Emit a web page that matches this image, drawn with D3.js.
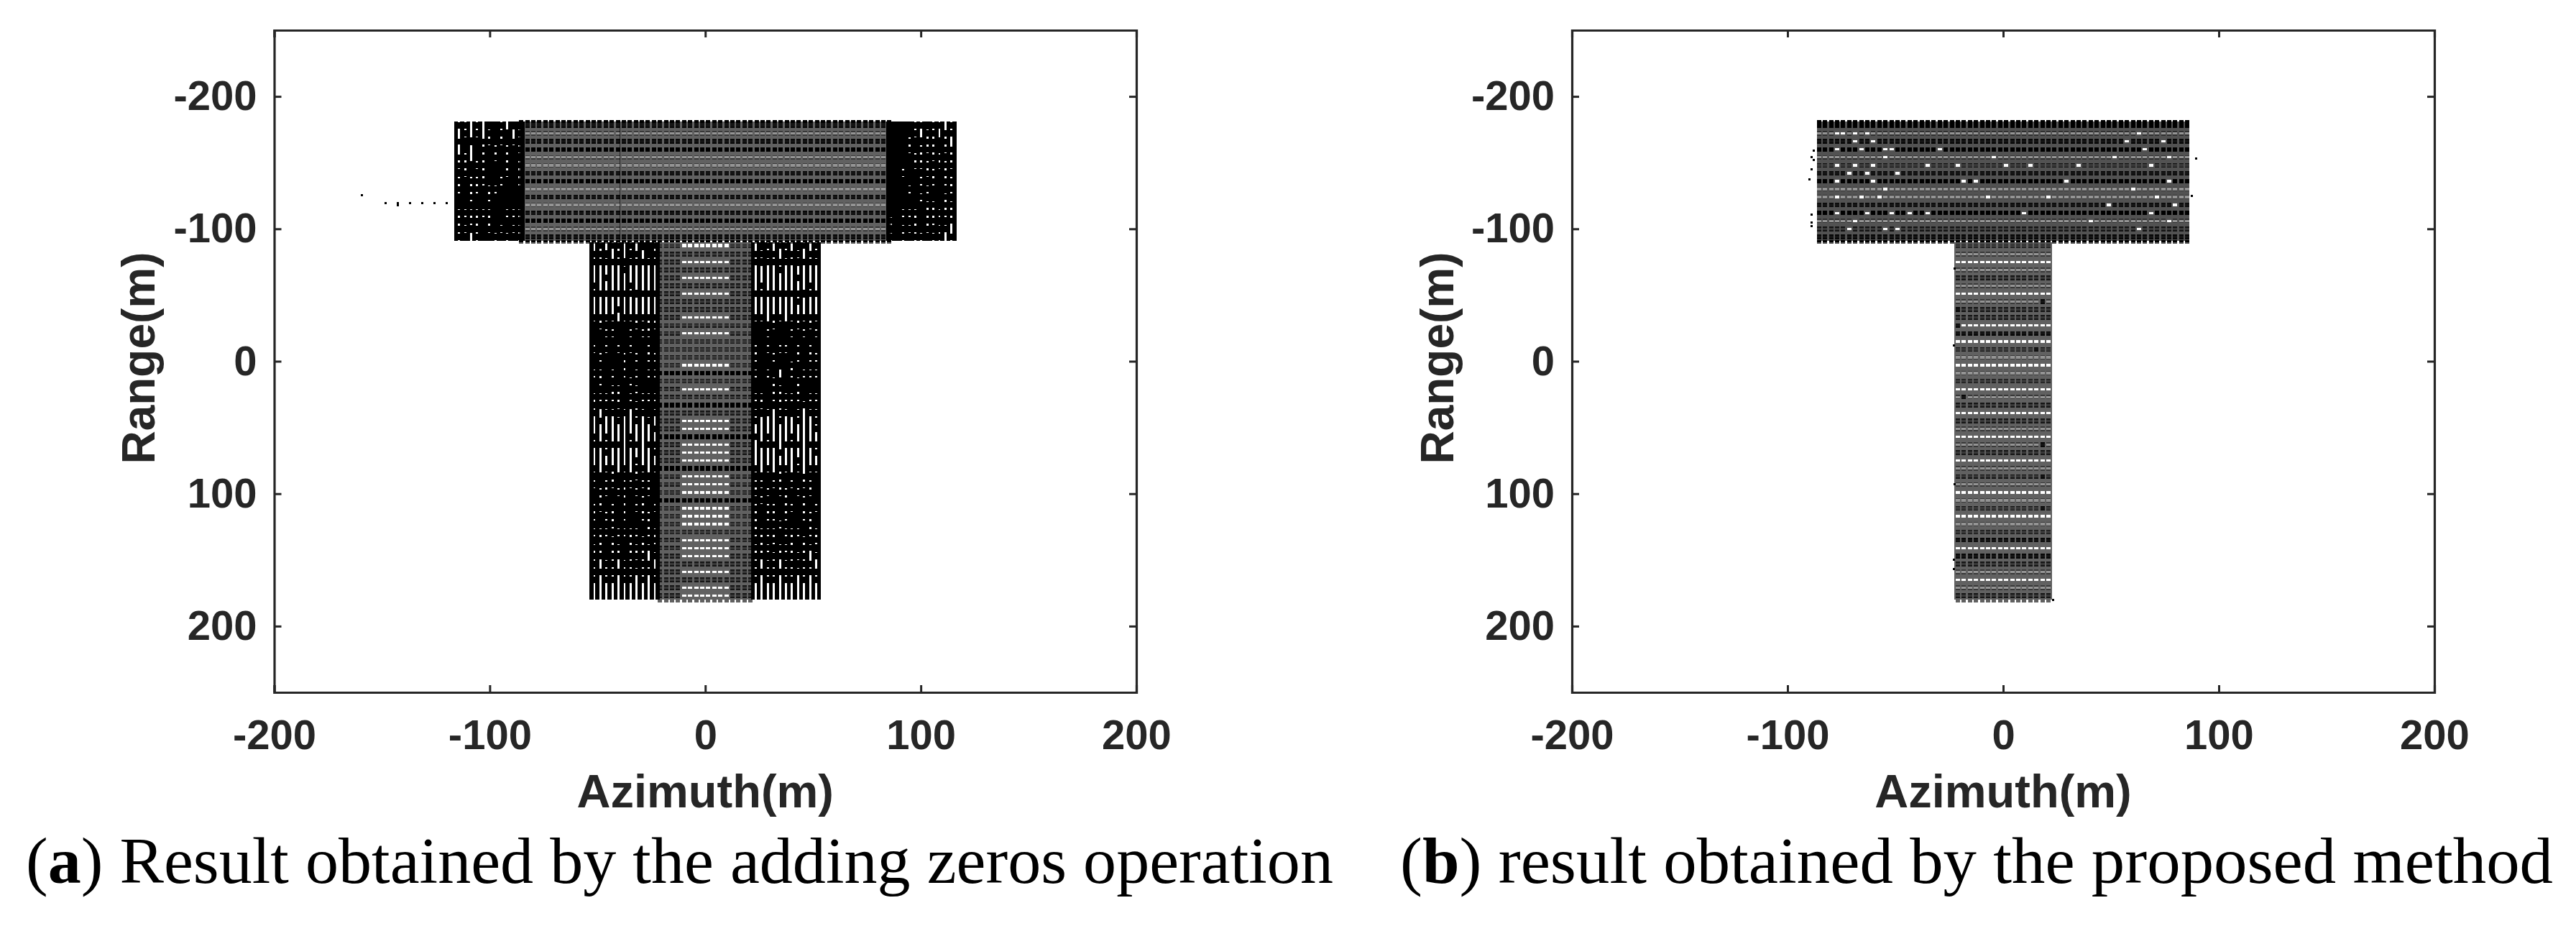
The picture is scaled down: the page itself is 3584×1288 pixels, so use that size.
<!DOCTYPE html>
<html>
<head>
<meta charset="utf-8">
<script src="https://cdn.jsdelivr.net/npm/d3@7"></script>
<style>
  body { margin: 0; background: #fff; }
  .tick text, .axis-title { font-family: "Liberation Sans", Arial, sans-serif; font-weight: bold; fill: #262626; }
  .caption { font-family: "Liberation Serif", serif; fill: #000; }
</style>
</head>
<body>
<svg id="chart" width="3584" height="1288"></svg>
<script>
const tickValues = [-200, -100, 0, 100, 200];
const tickLabels = ["-200", "-100", "0", "100", "200"];

// range rows of the scatterers, metres
const topRows = [-178, -172, -166, -160, -154, -148, -142, -136, -130, -124, -118, -112, -106, -100, -94];
const stemRows = [-87, -81, -75, -69, -63, -57, -51, -45, -39, -33, -27, -21, -15, -9, -3, 3, 9, 15, 21, 27, 33, 39, 45,
  51, 57, 63, 69, 75, 81, 87, 93, 99, 105, 111, 117, 123, 129, 135, 141, 147, 153, 159, 165, 171, 177];
const topEdgeRows = [-181, -90.5];

// azimuth columns, mirrored left and right when drawn
const topCells = [1.4, 4.2, 7, 9.8, 12.6, 15.4, 18.2, 21, 23.8, 26.6, 29.4, 32.2, 35, 37.8, 40.6, 43.4, 46.2, 49, 51.8,
  54.6, 57.4, 60.2, 63, 65.8, 68.6, 71.4, 74.2, 77, 79.8, 82.6, 85.4];
const topSeps = [0, 2.8, 5.6, 8.4, 11.2, 14, 16.8, 19.6, 22.4, 25.2, 28, 30.8, 33.6, 36.4, 39.2, 42, 44.8, 47.6, 50.4,
  53.2, 56, 58.8, 61.6, 64.4, 67.2, 70, 72.8, 75.6, 78.4, 81.2, 84];
const stemCells = [1.4, 4.2, 7, 9.8, 12.6, 15.4, 18.2, 21];
const stemSeps = [0, 2.8, 5.6, 8.4, 11.2, 14, 16.8, 19.6, 22.4];
const topSideDots = [84.84, 87.64, 90.44, 93.24, 96.04, 98.84, 101.64, 104.44, 107.24, 110.04, 112.84, 115.64];
const topSideGaps = [114.24, 111.44, 108.64, 105.84, 103.04, 100.24, 97.44, 94.64, 91.84, 89.04, 86.24];
const stemSideDots = [22.04, 24.84, 27.64, 30.44, 33.24, 36.04, 38.84, 41.64, 44.44, 47.24, 50.04, 52.84];
const stemSideGaps = [51.44, 48.64, 45.84, 43.04, 40.24, 37.44, 34.64, 31.84, 29.04, 26.24, 23.44];

// per row brightness of the centre cells: W empty, L light, G grey, D dark, B black
const topStatesA = "DLDBLLDBLDLDBLD";
const stemStatesA = "WGWGWGWGGWGWGGGWBGWGBGWWBWWWBWWWBWWWGWWWGWGWW";
const topStatesB = "BLDBLGDBLLDBLGD";
const stemStatesB = "GLWLGLWLGGWDWGLWLGWLGWGLWLGWLGLWLGWLGDWDGLWLG";

// side blocks, outer column first: + gap closed, o small hole, . gap open
const topLeftMask = ["oo.o.++o.++", ".o.o.o+o+.o", "o+++oo+o+o+", ".+.+o+o+o+o", "oo.+o+o+o++", "oo+oo+++o+o",
  "+o++o+++o+o", "o+ooo++o++o", "o+oo+oo++++", "++o++o+++++", "+++++++++++", "oooooo++ooo", "o+oo+o+++++",
  "oo+o+o+o+oo", "o+.o++o+o+o"];
const topRightMask = ["o.oo+oo++++", "oo.oo.o++++", ".o+oo++o+++", "oo+ooo+o+++", "o+oo+oo++++", "ooo+ooo++++",
  "+o+oo+++o++", "oo+o+o+++++", "o+++o++o+++", "+o+++o+++++", "oo+oo++++++", "ooooo+ooo++", "o++oo+o+++o",
  ".oo+o+ooo++", "o.oo+oo+o+o"];
const stemLeftMask = [".o.oo.o.++o", "oo+.o.+o.+o", "ooooo+ooooo", ".....o.....", "..o........", "o.....o....",
  "ooooooo+ooo", "...........", "....o......", "oooo.oooooo", "+o+++++o+oo", "++oo++o+oo+", "+++++++++++",
  "o+o+o+o++o+", "+o+++o+o+oo", "+++++o+++++", "oo+o+o+o+oo", "+o++++o++++", "+++oo++o+++", "ooooo+o+ooo",
  "o+++o++o+++", "o.oo+o.oo+o", ".o..o..o.o.", "..........o", "o.o...o....", "ooooo.oo.oo", "..o.......o",
  ".......o...", "o.oo.o.oo.o", "+++o+++o+++", "o+oo+oo+oo+", "+oo+oo+o+o+", "+o+++o++o++", "oo+o+o+oo+o",
  "o+oo+o++oo+", "+++o+++++o+", "ooo+oooo+oo", "+o+o++o+o+o", "oo+oo+oooo+", "oo+oo+ooo.o", "o.oo.oo+oo.",
  "ooooooooooo", "o.oo.oo.o.o", "...........", "..........."];
const stemRightMask = ["o.o+.oo.o+.", "+o.oo+.o+oo", "ooo+ooooo+o", "......o....", "...o.......", ".o.......o.",
  "oo+oooooooo", "...o.......", "...........", "ooooo.oo.oo", "+o+o+++o+++", "o+o+o+++o++", "+++++++++++",
  "+o+o+oo+o+o", "oo+o+++o++o", "++++o++++++", "ooo+o+.+o+o", "+++o+++o+++", "+++o++oo+++", "oo+ooooo+oo",
  "++o+++o++o+", "oo.o+oo.o+o", "o..o..o...o", "o..........", "....o...o.o", "oo.ooo.ooo.", "o.....o....",
  "...o.......", "oo.o.oo.o.o", "++o+++o++++", "+oo+o+oo+oo", "+o+o+oo+o+o", "++o++o+++o+", "o+o+oo+oo+o",
  "+oo++o+oo+o", "+o++++o+++o", "oo+ooo+oooo", "o+o+o++o+o+", "+oo+ooo+ooo", "o.ooo+oo+oo", ".oo+oo.oo.o",
  "ooooooooooo", "o.o.oo.oo.o", "...........", "..........."];

// single dots left of and around the target
const outliersA = [[-159.4, -125.3], [-148.2, -119.2], [-142.5, -119.2], [-142.5, -117.6], [-136.9, -119.2],
  [-131.2, -119.2], [-125.6, -119.2], [-119.9, -119.2]];
const outliersB = [[-88, -159], [-89, -154], [-88, -152], [-89, -145], [-90, -137.6], [-89, -111], [-89, -105],
  [-89, -102], [89.5, -153], [87.5, -125], [-22.6, -70], [-22.8, -12], [-22.6, 93], [-22.8, 157], [-22.8, 150], [23, 180]];

// cells of panel b that stand out from their row
const whiteSpecksB = [[-78, -172], [-74, -172], [-68, -172], [-62, -172], [-76, -160], [-70, -166], [-66, -160], [-60, -166],
  [-56, -160], [-52, -160], [-78, -148], [-68, -148], [-60, -148], [-54, -154], [-78, -136], [-72, -142], [-64, -142],
  [-60, -136], [-50, -142], [-78, -124], [-66, -124], [-58, -124], [-54, -130], [-76, -112], [-68, -106], [-62, -112],
  [-52, -112], [-44, -112], [-36, -112], [-72, -100], [-56, -100], [-48, -100], [-34, -148], [-30, -160], [-22, -148],
  [-18, -136], [-12, -136], [-8, -124], [-4, -154], [2, -148], [10, -112], [14, -148], [22, -124], [30, -136], [34, -148],
  [40, -106], [48, -118], [58, -166], [62, -172], [66, -160], [70, -148], [74, -166], [76, -154], [78, -136], [72, -124],
  [68, -112], [60, -130], [64, -100], [80, -118], [76, -106], [52, -154]];
const darkSpecksB = [[18, -45], [-21, -39], [18, -21], [-21, -27], [15.4, -9], [18, 63], [18, 87], [-12.6, 135], [-18.2, 147],
  [-15.4, 147], [18, 111], [-18.2, 27]];

const stateOpacity = { L: 0.42, G: 0.78, D: 0.92, B: 1 };
const panels = [
  { left: 381.5, right: 1581, titleX: 215, bold: "a", caption: ") Result obtained by the adding zeros operation", capX: 36, capW: 1819 },
  { left: 2187, right: 3387, titleX: 2022, bold: "b", caption: ") result obtained by the proposed method", capX: 1948, capW: 1604 }
];

const plotTop = 42, plotBottom = 963;
const svg = d3.select("#chart");
const y = d3.scaleLinear().domain([-250, 250]).range([plotTop, plotBottom]);

const rowH = y(6) - y(0);
const cellW = 6, sepW = 2.4, mainH = 6.5, betweenH = rowH - 3.3, sideDotW = 5.5, gapW = 3.4, holeH = 2.6;

function nearest(list, v) {
  return d3.least(list, d => Math.abs(d - v));
}

function specksToMap(specks, cells, rows, state, map) {
  specks.forEach(([az, rg]) => {
    const c = nearest(cells, Math.abs(az)) * Math.sign(az);
    const r = nearest(rows, rg);
    map.set(c + "|" + r, state);
  });
}

function centreBlock(points, cells, seps, rows, states, whiteLimit, specks, grid) {
  const sepsBoth = Array.from(new Set(seps.flatMap(s => [s, -s])));
  const cellsBoth = cells.flatMap(c => [c, -c]);
  rows.forEach((rg, i) => {
    sepsBoth.forEach(s => points.push({ az: s, rg, w: sepW, h: rowH, o: grid }));
    cellsBoth.forEach(c => {
      points.push({ az: c, rg: rg + 3, w: cellW, h: betweenH, o: grid });
      let st = specks.get(c + "|" + rg) || states[i];
      if (st === "W" && Math.abs(c) > whiteLimit) st = "G";
      if (st !== "W") points.push({ az: c, rg, w: cellW, h: mainH, o: stateOpacity[st] });
    });
  });
  topEdgeRows.forEach(rg => {
    if (rows !== topRows) return;
    cellsBoth.forEach(c => points.push({ az: c, rg, w: cellW, h: 3.4, o: 1 }));
  });
}

function sideBlock(points, sign, dots, gaps, rows, mask) {
  rows.forEach((rg, i) => {
    dots.forEach(d => points.push({ az: sign * d, rg, w: sideDotW, h: rowH, o: 1 }));
    gaps.forEach((g, j) => {
      const m = mask[i][j];
      if (m === ".") return;
      points.push({ az: sign * g, rg, w: gapW, h: m === "+" ? rowH : rowH - holeH, o: 1 });
    });
  });
}

function panelPoints(idx) {
  const points = [];
  if (idx === 0) {
    centreBlock(points, topCells, topSeps, topRows, topStatesA, 200, new Map(), 0.62);
    sideBlock(points, -1, topSideDots, topSideGaps, topRows, topLeftMask);
    sideBlock(points, 1, topSideDots, topSideGaps, topRows, topRightMask);
    centreBlock(points, stemCells, stemSeps, stemRows, stemStatesA, 12, new Map(), 0.62);
    sideBlock(points, -1, stemSideDots, stemSideGaps, stemRows, stemLeftMask);
    sideBlock(points, 1, stemSideDots, stemSideGaps, stemRows, stemRightMask);
    outliersA.forEach(([az, rg]) => points.push({ az, rg, w: 3, h: 3, o: 1 }));
  } else {
    const specks = new Map();
    specksToMap(whiteSpecksB, topCells, topRows, "W", specks);
    specksToMap(darkSpecksB, stemCells, stemRows, "D", specks);
    centreBlock(points, topCells, topSeps, topRows, topStatesB, 200, specks, 0.68);
    centreBlock(points, stemCells, stemSeps, stemRows, stemStatesB, 200, specks, 0.62);
    outliersB.forEach(([az, rg]) => points.push({ az, rg, w: 3, h: 3, o: 1 }));
  }
  return points;
}

panels.forEach((p, idx) => {
  const x = d3.scaleLinear().domain([-200, 200]).range([p.left, p.right]);
  const g = svg.append("g");

  g.append("g")
    .attr("shape-rendering", "crispEdges")
    .selectAll("rect")
    .data(panelPoints(idx))
    .join("rect")
    .attr("x", d => x(d.az) - d.w / 2)
    .attr("y", d => y(d.rg) - d.h / 2)
    .attr("width", d => d.w)
    .attr("height", d => d.h)
    .attr("fill", "#000")
    .attr("fill-opacity", d => d.o);

  const fmt = (d, i) => tickLabels[i];
  const bottomAxis = d3.axisBottom(x).tickValues(tickValues).tickFormat(fmt).tickSize(-10).tickPadding(38);
  const topAxis = d3.axisTop(x).tickValues(tickValues).tickFormat("").tickSize(-10);
  const leftAxis = d3.axisLeft(y).tickValues(tickValues).tickFormat(fmt).tickSize(-10).tickPadding(24);
  const rightAxis = d3.axisRight(y).tickValues(tickValues).tickFormat("").tickSize(-10);

  const axes = [
    [bottomAxis, `translate(0,${plotBottom})`],
    [topAxis, `translate(0,${plotTop})`],
    [leftAxis, `translate(${p.left},0)`],
    [rightAxis, `translate(${p.right},0)`]
  ];
  axes.forEach(([axis, tr]) => {
    const a = g.append("g").attr("transform", tr).call(axis);
    a.selectAll("path.domain").attr("stroke", "#262626").attr("stroke-width", 3.2);
    a.selectAll(".tick line").attr("stroke", "#262626").attr("stroke-width", 3);
    a.selectAll("text").attr("font-size", 58);
    a.attr("font-family", null);
  });

  g.append("text")
    .attr("class", "axis-title")
    .attr("x", (p.left + p.right) / 2)
    .attr("y", 1123)
    .attr("text-anchor", "middle")
    .attr("font-size", 65)
    .text("Azimuth(m)");

  g.append("text")
    .attr("class", "axis-title")
    .attr("transform", `translate(${p.titleX},498) rotate(-90)`)
    .attr("text-anchor", "middle")
    .attr("font-size", 64)
    .text("Range(m)");

  const cap = g.append("text")
    .attr("class", "caption")
    .attr("x", p.capX)
    .attr("y", 1228)
    .attr("font-size", 90)
    .attr("textLength", p.capW)
    .attr("lengthAdjust", "spacingAndGlyphs");
  cap.append("tspan").text("(");
  cap.append("tspan").attr("font-weight", "bold").text(p.bold);
  cap.append("tspan").text(p.caption);
});
</script>
</body>
</html>
